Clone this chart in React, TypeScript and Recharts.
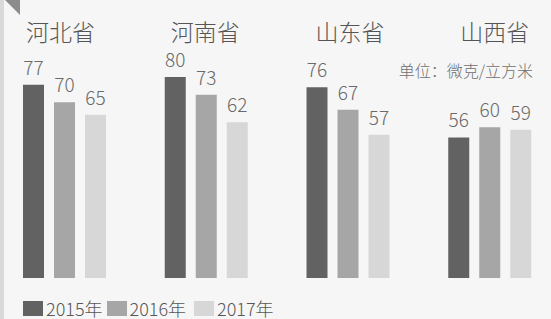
import React from 'react';
import { BarChart, Bar, XAxis, YAxis, LabelList, Legend } from 'recharts';

const provinces = ['河北省', '河南省', '山东省', '山西省'];
const values2015 = [77, 80, 76, 56];
const values2016 = [70, 73, 67, 60];
const values2017 = [65, 62, 57, 59];
const seriesNames = ['2015年', '2016年', '2017年'];
const seriesColors = ['#626262', '#a6a6a6', '#d7d7d7'];
const unitText = '单位：微克/立方米';

const data = provinces.map((p, i) => ({
  name: p,
  y2015: values2015[i],
  y2016: values2016[i],
  y2017: values2017[i],
}));

const FONT = '"Noto Sans CJK SC", "Noto Sans", sans-serif';

const ProvinceTick = (props: any) => {
  const { x, y, payload, index } = props;
  const dx = (index - 1.5) * 3;
  return (
    <text x={x + dx} y={y} textAnchor="middle" fill="#555" fontSize={23} fontWeight={300} fontFamily={FONT}>
      {payload.value}
    </text>
  );
};

const LegendContent = () => (
  <div style={{ display: 'flex', alignItems: 'center', height: 20, fontFamily: FONT, fontSize: 18, fontWeight: 300, color: '#585858' }}>
    {seriesNames.map((n, i) => (
      <div key={n} style={{ display: 'flex', alignItems: 'center', marginRight: i === 1 ? 8 : 4 }}>
        <div style={{ width: 20, height: 15, background: seriesColors[i], marginRight: 3 }} />
        <span style={{ lineHeight: '20px' }}>{n}</span>
      </div>
    ))}
  </div>
);

export default function App() {
  return (
    <div style={{ position: 'fixed', left: 0, top: 0, width: 551, height: 319, overflow: 'hidden', background: '#f6f6f6' }}>
      <div style={{ position: 'absolute', left: 0, top: 0, width: 4, height: 319, background: '#d9d9d9' }} />
      <div style={{ position: 'absolute', left: 5, top: 0, width: 15, height: 15, background: '#8c8c8c', clipPath: 'polygon(0 0, 100% 0, 100% 100%)' }} />
      <div style={{ position: 'absolute', left: -6, top: 0 }}>
        <BarChart
          width={567}
          height={319}
          data={data}
          margin={{ top: 0, right: 0, bottom: 21, left: 0 }}
          barGap={10}
          barSize={21}
        >
          <XAxis
            dataKey="name"
            orientation="top"
            height={52}
            axisLine={false}
            tickLine={false}
            tickSize={0}
            tickMargin={11}
            interval={0}
            tick={<ProvinceTick />}
          />
          <YAxis hide domain={[0, 90]} />
          <Legend
            verticalAlign="bottom"
            align="left"
            content={<LegendContent />}
            wrapperStyle={{ left: 29, bottom: 1, width: 320 }}
          />
          {['y2015', 'y2016', 'y2017'].map((k, i) => (
            <Bar key={k} dataKey={k} name={seriesNames[i]} fill={seriesColors[i]} isAnimationActive={false}>
              <LabelList dataKey={k} position="top" offset={10} fill="#6a6a6a" fontSize={19} fontWeight={300} fontFamily={FONT} />
            </Bar>
          ))}
        </BarChart>
      </div>
      <div style={{ position: 'absolute', right: 18, top: 58, fontFamily: FONT, fontSize: 16, fontWeight: 300, color: '#6f6f6f', whiteSpace: 'nowrap' }}>
        {unitText}
      </div>
    </div>
  );
}
